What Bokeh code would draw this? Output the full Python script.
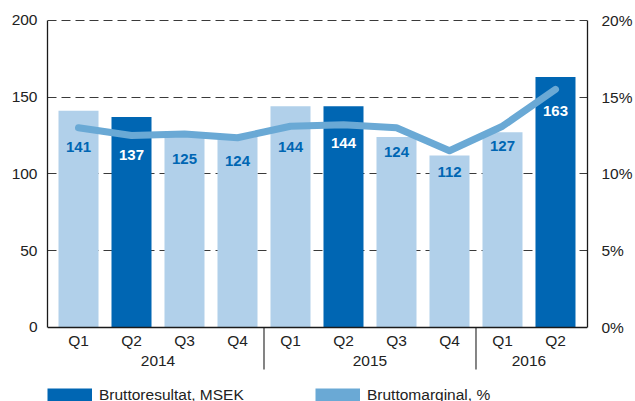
import math
from bokeh.plotting import figure
from bokeh.models import (Range1d, LinearAxis, FixedTicker, PrintfTickFormatter, Span,
                          Legend, LegendItem, ColumnDataSource, Grid)
from bokeh.core.properties import value
from bokeh.embed import file_html
from bokeh.resources import INLINE

# ---------------- data ----------------
quarters = ["Q1", "Q2", "Q3", "Q4", "Q1", "Q2", "Q3", "Q4", "Q1", "Q2"]
years = ["2014", "2014", "2014", "2014", "2015", "2015", "2015", "2015", "2016", "2016"]
gross_profit = [141, 137, 125, 124, 144, 144, 124, 112, 127, 163]      # Bruttoresultat, MSEK
gross_margin = [13.0, 12.5, 12.6, 12.35, 13.1, 13.2, 13.0, 11.5, 13.1, 15.5]  # Bruttomarginal, %
left_ticks = [0, 50, 100, 150, 200]
right_ticks = [0, 5, 10, 15, 20]
grid_ticks = [50, 100, 150, 200]
series_names = ["Bruttoresultat, MSEK", "Bruttomarginal, %"]

# label placement (pixels below bar top) - styling
label_offsets_px = [36, 38, 24, 24, 41, 37, 15, 17, 14, 34]

DARK = "#0066b3"
LIGHT = "#b1d0ea"
MID = "#6aa9d5"
TEXT = "#222222"
FONT = "Liberation Sans"

n = len(quarters)
xs = list(range(n))
bar_colors = [DARK if q == "Q2" else LIGHT for q in quarters]
label_colors = ["#ffffff" if q == "Q2" else DARK for q in quarters]

src = ColumnDataSource(dict(
    x=xs, v=gross_profit, color=bar_colors,
    lbl=[str(v) for v in gross_profit], lc=label_colors, off=label_offsets_px,
))

p = figure(width=635, height=401, output_backend="svg", toolbar_location=None,
           x_range=Range1d(-0.585, 9.604), y_range=Range1d(-48.16, 205.0),
           x_axis_location=None, y_axis_location=None,
           min_border_left=47, min_border_right=48, min_border_top=12, min_border_bottom=0,
           outline_line_color=None)
p.extra_y_ranges = {"pct": Range1d(-4.816, 20.5)}
p.xgrid.visible = False
p.ygrid.visible = False

def style_axis(ax, standoff):
    ax.major_tick_line_color = None
    ax.minor_tick_line_color = None
    ax.major_tick_out = 0
    ax.major_tick_in = 0
    ax.major_label_standoff = standoff
    ax.major_label_text_font = FONT
    ax.major_label_text_font_size = "15.5px"
    ax.major_label_text_color = TEXT
    ax.axis_line_color = "#1a1a1a"
    ax.axis_line_width = 1.3

yl = LinearAxis(ticker=FixedTicker(ticks=left_ticks), bounds=(0, 200))
style_axis(yl, 10)
p.add_layout(yl, "left")

yr = LinearAxis(y_range_name="pct", ticker=FixedTicker(ticks=right_ticks), bounds=(0, 20),
                formatter=PrintfTickFormatter(format="%d%%"))
style_axis(yr, 14)
p.add_layout(yr, "right")

grid = Grid(dimension=1, ticker=FixedTicker(ticks=grid_ticks),
            grid_line_color="#3a3a3a", grid_line_dash="9 5", grid_line_width=1)
p.add_layout(grid)

# bars
p.vbar(x="x", top="v", width=0.755, fill_color="color", line_color=None, source=src)

# margin line
p.line(xs, gross_margin, y_range_name="pct", line_width=7, color=MID,
       line_cap="round", line_join="round")

# bar value labels
p.text(x="x", y="v", text="lbl", y_offset="off", text_color="lc", source=src,
       text_font=value(FONT), text_font_style="bold", text_font_size="15px",
       text_align="center", text_baseline="middle")

# baseline
p.add_layout(Span(location=0, dimension="width", line_color="#1a1a1a", line_width=1.5))

# category labels
p.text(x=xs, y=[0] * n, text=quarters, y_offset=13.5, text_color=TEXT,
       text_font=value(FONT), text_font_size="15.5px", text_align="center", text_baseline="middle")

year_names = []
year_centers = []
for yname in years:
    if yname not in year_names:
        year_names.append(yname)
for yname in year_names:
    idx = [i for i, yy in enumerate(years) if yy == yname]
    year_centers.append(sum(idx) / len(idx))
p.text(x=year_centers, y=[0] * len(year_centers), text=year_names, y_offset=34, text_color=TEXT,
       text_font=value(FONT), text_font_size="15.5px", text_align="center", text_baseline="middle")

# group separators
sep_x = [i - 0.5 for i in range(1, n) if years[i] != years[i - 1]]
p.ray(x=sep_x, y=[0] * len(sep_x), length=42, length_units="screen", angle=-math.pi / 2,
      line_color="#333333", line_width=1.2)

# legends (swatch renderers hold no visible points)
nan = float("nan")
r1 = p.line(x=[0, 0], y=[nan, nan], line_width=14, line_cap="butt", color=DARK)
r2 = p.line(x=[0, 0], y=[nan, nan], line_width=14, line_cap="butt", color=MID)
for r, name, loc in [(r1, series_names[0], (0, -2.5)), (r2, series_names[1], (268, -2.5))]:
    leg = Legend(items=[LegendItem(label=name, renderers=[r])], location=loc,
                 orientation="horizontal", glyph_width=45, glyph_height=16, label_standoff=7,
                 padding=0, margin=0, spacing=0, border_line_color=None, background_fill_alpha=0,
                 label_text_font=FONT, label_text_font_size="15.5px", label_text_color=TEXT)
    p.add_layout(leg)

open("out.html", "w").write(file_html(p, INLINE))
